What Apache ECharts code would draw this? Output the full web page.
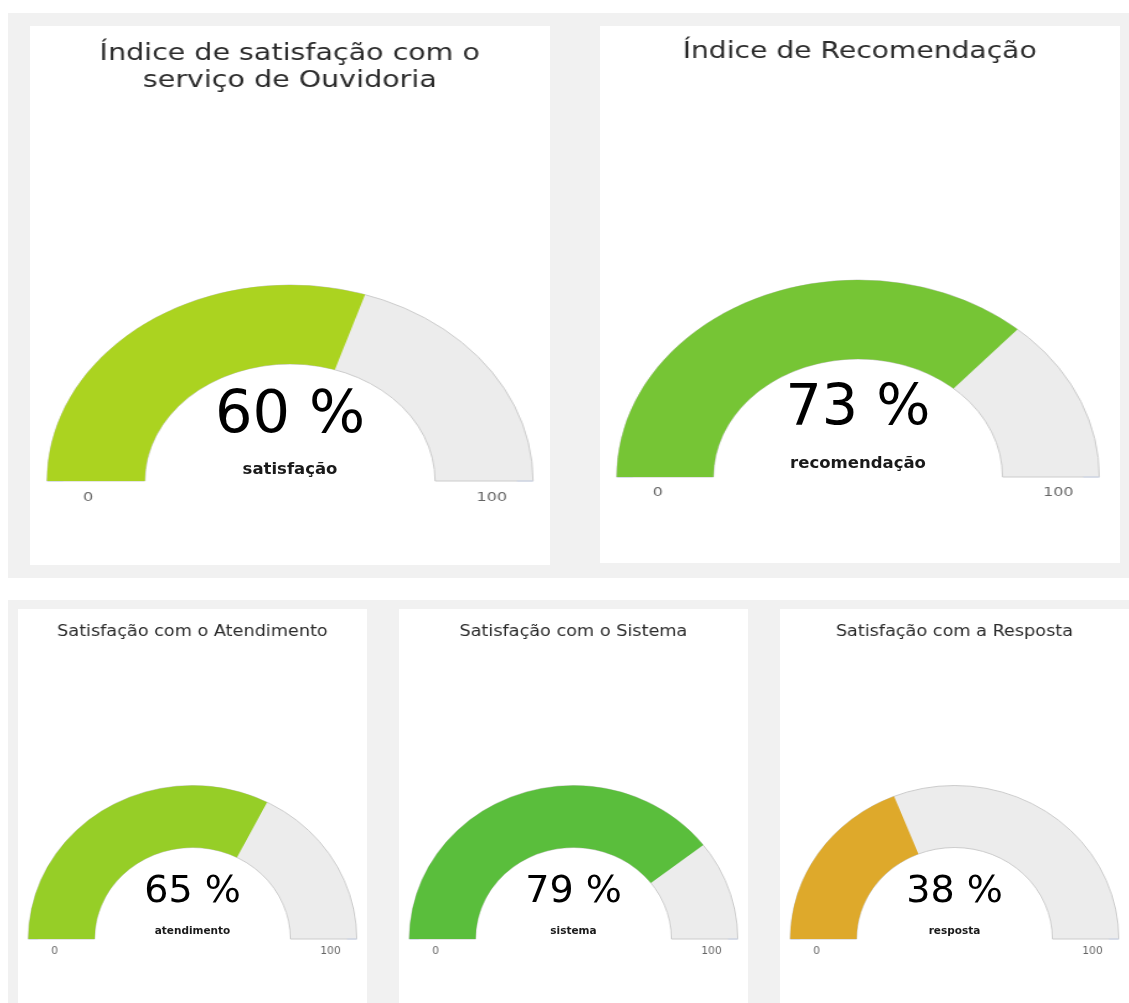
<!DOCTYPE html>
<html>
<head>
<meta charset="utf-8">
<title>Pesquisa de satisfação - Ouvidoria</title>
<script src="https://cdn.jsdelivr.net/npm/echarts@6/dist/echarts.min.js"></script>
<style>
* {
  margin: 0;
  padding: 0;
}
body {
  position: relative;
  width: 1129px;
  height: 1003px;
  overflow: hidden;
  background-color: #ffffff;
}
.band {
  position: absolute;
  background-color: #f1f1f1;
}
.card {
  position: absolute;
  background-color: #ffffff;
  overflow: hidden;
}
/* o arco original aparece esticado na horizontal, então o gráfico é esticado com CSS */
.arc {
  position: absolute;
  left: 0;
  top: 0;
  transform-origin: 0 0;
}
.txt {
  position: absolute;
  left: 0;
  top: 0;
  width: 100%;
  height: 100%;
}
</style>
</head>
<body>
<div class="band" style="left:8px;top:13px;width:1121px;height:565px"></div>
<div class="band" style="left:8px;top:600px;width:1121px;height:403px"></div>

<script>
// dados
const titulos = [
  "Índice de satisfação com o\nserviço de Ouvidoria",
  "Índice de Recomendação",
  "Satisfação com o Atendimento",
  "Satisfação com o Sistema",
  "Satisfação com a Resposta",
];
const nomes = ["satisfação", "recomendação", "atendimento", "sistema", "resposta"];
const valores = [60, 73, 65, 79, 38];
const escala = [0, 100];
const rotulosEscala = ["0", "100"];

const cores = ["#abd320", "#76c535", "#96ce27", "#5abe3c", "#dea92b"];
const fonte = "DejaVu Sans";

// layout de cada cartão: posição, esticamento (k) e geometria do arco
const grande = { k: 1.24, r: 196, ring: 79, stub: 13, titleSize: 23, titleTop: 10, lh: 27, detail: 59, name: 16.5, tick: 13, tickDx: 83, tickY: 17 };
const pequeno = { k: 1.07, r: 153.5, ring: 62, stub: 9, titleSize: 16.5, titleTop: 8, lh: 20, detail: 38, name: 10.5, tick: 10, tickDx: 84, tickY: 12 };
const cards = [
  Object.assign({}, grande, { left: 30, top: 26, w: 520, h: 539, cx: 260, cy: 455, detailY: -64, nameY: -11 }),
  Object.assign({}, grande, { left: 600, top: 26, w: 520, h: 537, k: 1.225, r: 197, cx: 258, cy: 451, titleTop: 8, detail: 57, detailY: -67, nameY: -13, tickY: 16 }),
  Object.assign({}, pequeno, { left: 18, top: 609, w: 349, h: 394, cx: 174.5, cy: 330, detailY: -47, nameY: -8 }),
  Object.assign({}, pequeno, { left: 399, top: 609, w: 349, h: 394, cx: 174.5, cy: 330, detailY: -47, nameY: -8 }),
  Object.assign({}, pequeno, { left: 780, top: 609, w: 349, h: 394, cx: 174.5, cy: 330, detailY: -47, nameY: -8 }),
];

function gaugeBase(c, cx) {
  return {
    type: "gauge",
    center: [cx, c.cy],
    radius: c.r,
    startAngle: 180,
    endAngle: 0,
    min: escala[0],
    max: escala[1],
    splitNumber: 1,
    axisLine: { show: false, lineStyle: { width: 0 } },
    axisTick: { show: false },
    splitLine: { show: false },
    axisLabel: { show: false },
    pointer: { show: false },
    anchor: { show: false },
    title: { show: false },
    detail: { show: false },
  };
}

cards.forEach(function (c, i) {
  const card = document.createElement("div");
  card.className = "card";
  card.style.cssText = `left:${c.left}px;top:${c.top}px;width:${c.w}px;height:${c.h}px`;

  const arc = document.createElement("div");
  arc.className = "arc";
  arc.style.cssText = `width:${c.w / c.k}px;height:${c.h}px;transform:scaleX(${c.k})`;

  const txt = document.createElement("div");
  txt.className = "txt";

  card.appendChild(arc);
  card.appendChild(txt);
  document.body.appendChild(card);

  // arco + título + rótulos 0 / 100 (esticados)
  const arcChart = echarts.init(arc, null, { renderer: "canvas" });
  const ncx = c.cx / c.k;
  arcChart.setOption({
    animation: false,
    title: {
      text: titulos[i],
      left: "center",
      top: c.titleTop,
      textStyle: {
        fontFamily: fonte,
        fontSize: c.titleSize,
        fontWeight: "normal",
        color: "#2b2b2b",
        lineHeight: c.lh,
      },
    },
    series: [
      // fundo cinza do arco
      Object.assign(gaugeBase(c, ncx), {
        progress: {
          show: true,
          width: c.ring,
          itemStyle: { color: "#ececec", borderColor: "#cccccc", borderWidth: 1 },
        },
        data: [{ value: escala[1] }],
      }),
      // valor
      Object.assign(gaugeBase(c, ncx), {
        progress: {
          show: true,
          width: c.ring,
          itemStyle: { color: cores[i] },
        },
        data: [{ value: valores[i] }],
      }),
      // rótulos da escala e marcas nas pontas
      Object.assign(gaugeBase(c, ncx), {
        splitLine: {
          show: true,
          length: c.stub,
          distance: 0,
          lineStyle: { color: "#ccd6eb", width: 1 },
        },
        title: {
          show: true,
          fontFamily: fonte,
          fontSize: c.tick,
          color: "#666666",
        },
        data: rotulosEscala.map(function (t, j) {
          return {
            value: escala[j],
            name: t,
            title: { offsetCenter: [(j === 0 ? -c.tickDx : c.tickDx) + "%", c.tickY] },
          };
        }),
      }),
    ],
  });

  // valor em destaque e nome (sem esticar)
  const txtChart = echarts.init(txt, null, { renderer: "canvas" });
  txtChart.setOption({
    animation: false,
    series: [
      Object.assign(gaugeBase(c, c.cx), {
        title: {
          show: true,
          offsetCenter: [0, c.nameY],
          fontFamily: fonte,
          fontSize: c.name,
          fontWeight: "bold",
          color: "#1a1a1a",
        },
        detail: {
          show: true,
          offsetCenter: [0, c.detailY],
          fontFamily: fonte,
          fontSize: c.detail,
          fontWeight: "normal",
          color: "#000000",
          formatter: "{value} %",
        },
        data: [{ value: valores[i], name: nomes[i] }],
      }),
    ],
  });
});
</script>
</body>
</html>
